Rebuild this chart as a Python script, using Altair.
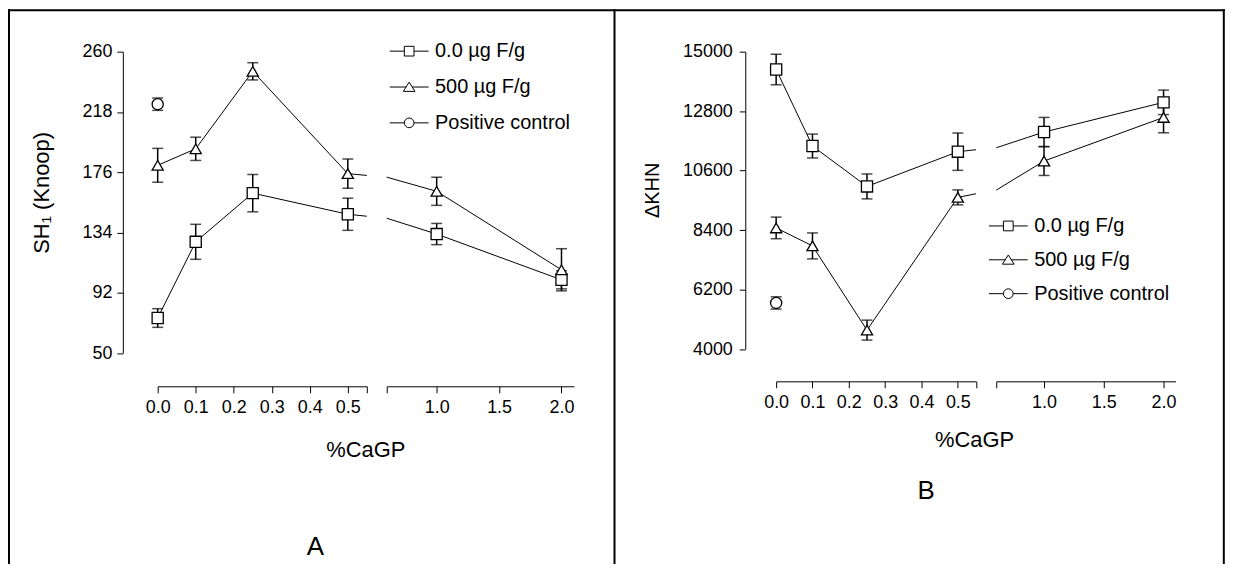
import altair as alt
import pandas as pd

FONT = "Liberation Sans"

# ---------------- data ----------------
x_vals = [0.0, 0.1, 0.25, 0.5, 1.0, 2.0]
series_names = ["0.0 µg F/g", "500 µg F/g", "Positive control"]

# Panel A : SH1 (Knoop)
a_sq = [74.4, 127.5, 161.4, 146.7, 132.9, 101.0]
a_sq_err = [6.5, 12.2, 13.0, 11.2, 7.4, 6.3]
a_tri = [180.8, 192.3, 246.3, 175.0, 162.7, 108.0]
a_tri_err = [11.8, 8.1, 6.0, 10.2, 9.8, 14.7]
a_pc = [223.4]
a_pc_err = [4.3]

# Panel B : delta KHN
b_sq = [14340, 11510, 10015, 11300, 12027, 13125]
b_sq_err = [565, 442, 461, 690, 540, 453]
b_tri = [8480, 7815, 4700, 9610, 10955, 12567]
b_tri_err = [400, 480, 369, 277, 534, 568]
b_pc = [5705]
b_pc_err = [227]

a_yticks = [50, 92, 134, 176, 218, 260]
b_yticks = [4000, 6200, 8400, 10600, 12800, 15000]
left_xticks = [0.0, 0.1, 0.2, 0.3, 0.4, 0.5, 0.55]
right_xticks = [0.6, 1.0, 1.5, 2.0]

marker_shapes = ["square", "triangle-up", "circle"]
legend_paths = [
    "M-2,0H-0.5M0.5,0H2M-0.5,-0.5H0.5V0.5H-0.5Z",
    "M-2,0H-0.3M0.3,0H2M0,-0.5L-0.6,0.45L0.6,0.45Z",
    "M-2,0H-0.5M0.5,0H2M0.5,0A0.5,0.5 0 1,1 -0.5,0A0.5,0.5 0 1,1 0.5,0Z",
]


def make_df(sq, sq_e, tri, tri_e, pc, pc_e):
    rows = []
    for xi, v, e in zip(x_vals, sq, sq_e):
        rows.append({"x": xi, "series": series_names[0], "v": v, "e": e})
    for xi, v, e in zip(x_vals, tri, tri_e):
        rows.append({"x": xi, "series": series_names[1], "v": v, "e": e})
    for xi, v, e in zip(x_vals[:1], pc, pc_e):
        rows.append({"x": xi, "series": series_names[2], "v": v, "e": e})
    return pd.DataFrame(rows)


df_a = make_df(a_sq, a_sq_err, a_tri, a_tri_err, a_pc, a_pc_err)
df_b = make_df(b_sq, b_sq_err, b_tri, b_tri_err, b_pc, b_pc_err)
decor_df = pd.DataFrame({"k": [0]})


def x_axis(values, hide_expr, offset, title=None, title_x=0, title_y=0):
    kw = dict(
        values=values,
        labelExpr=f"{hide_expr} ? '' : format(datum.value, '.1f')",
        offset=offset, tickSize=6.5, labelPadding=6, labelFlush=False,
        labelOverlap=False, labelFontSize=18, labelFont=FONT, labelColor="black",
        domainColor="black", tickColor="black", domainWidth=1, tickWidth=1,
        grid=False,
    )
    if title is not None:
        kw.update(title=title, titleFontSize=22, titleFont=FONT, titleFontWeight="normal",
                  titleColor="black", titleX=title_x, titleY=title_y,
                  titleBaseline="middle", titleAlign="center")
    else:
        kw.update(title=None)
    return alt.Axis(**kw)


def y_axis(values, offset, title, title_x, title_y, pad, tsize):
    return alt.Axis(
        values=values, format="d", offset=offset, tickSize=6, labelPadding=pad,
        labelOverlap=False, labelFontSize=18, labelFont=FONT, labelColor="black",
        domainColor="black", tickColor="black", domainWidth=1, tickWidth=1,
        grid=False, title=title, titleFontSize=tsize, titleFont=FONT,
        titleFontWeight="normal", titleColor="black", titleX=title_x, titleY=title_y,
        titleAngle=270, titleBaseline="middle", titleAlign="center",
    )


def subplot(df, xdomain, xaxis, ydomain, yaxis, filt, width, height, legend=None, extra=None):
    xs = alt.Scale(domain=xdomain, nice=False, zero=False)
    ys = alt.Scale(domain=ydomain, nice=False, zero=False)
    X = alt.X("x:Q", scale=xs, axis=xaxis)

    def Y(field):
        return alt.Y(field, scale=ys, axis=yaxis)

    base = alt.Chart(df)
    lines = base.mark_line(clip=True, color="black", strokeWidth=1).encode(
        x=X, y=Y("v:Q"), detail="series:N")
    pts = base.transform_filter(filt).transform_calculate(
        lo="datum.v - datum.e", hi="datum.v + datum.e")
    rules = pts.mark_rule(color="black", strokeWidth=1.5).encode(
        x=X, y=Y("lo:Q"), y2="hi:Q")
    caps = pts.transform_fold(["lo", "hi"], as_=["end", "val"]).mark_tick(
        orient="horizontal", size=11, thickness=1.5, color="black").encode(
        x=X, y=Y("val:Q"))
    points = pts.mark_point(filled=True, fill="white", stroke="black",
                            strokeWidth=1.3, size=125, opacity=1).encode(
        x=X, y=Y("v:Q"),
        shape=alt.Shape("series:N",
                        scale=alt.Scale(domain=series_names, range=marker_shapes),
                        legend=None))
    layers = [lines, rules, caps, points]
    if legend is not None:
        leg = base.mark_point(opacity=0).encode(
            x=X, y=Y("v:Q"),
            shape=alt.Shape("series:N",
                            scale=alt.Scale(domain=series_names, range=legend_paths),
                            legend=legend))
        layers.append(leg)
    if extra is not None:
        layers.extend(extra)
    return alt.layer(*layers).resolve_scale(shape="independent").properties(
        width=width, height=height)


def make_legend(lx, ly, rowpad):
    return alt.Legend(
        orient="none", legendX=lx, legendY=ly, title=None, padding=0,
        labelFontSize=20, labelFont=FONT, labelColor="black", labelLimit=400,
        labelOffset=15.5, symbolOffset=0, symbolSize=380, symbolStrokeWidth=1,
        symbolStrokeColor="black", symbolFillColor="white", symbolOpacity=1,
        rowPadding=rowpad,
    )


# ---------------- decorations (frame and panel letters) ----------------
dec = alt.Chart(decor_df)
frame = [
    dec.mark_rule(color="black", strokeWidth=2).encode(
        x=alt.value(-150.3), x2=alt.value(1071.7), y=alt.value(-41.7)),
    dec.mark_rule(color="black", strokeWidth=2).encode(
        x=alt.value(-149.3), y=alt.value(-42.7), y2=alt.value(520)),
    dec.mark_rule(color="black", strokeWidth=2).encode(
        x=alt.value(458.7), y=alt.value(-42.7), y2=alt.value(520)),
    dec.mark_rule(color="black", strokeWidth=2).encode(
        x=alt.value(1070.5), y=alt.value(-42.7), y2=alt.value(520)),
    dec.mark_text(text="A", fontSize=26, font=FONT, color="black",
                  baseline="middle", align="center").encode(
        x=alt.value(158.4), y=alt.value(497.3)),
]
label_b = [
    dec.mark_text(text="B", fontSize=26, font=FONT, color="black",
                  baseline="middle", align="center").encode(
        x=alt.value(150.7), y=alt.value(441.3)),
]

A_left = subplot(
    df_a, [0, 0.55],
    x_axis(left_xticks, "datum.value > 0.52", 33.4, "%CaGP", 208.4, 63.3),
    [50, 260],
    y_axis(a_yticks, 35, "SH₁ (Knoop)", -81.8, 141.3, 5, 22),
    "datum.x <= 0.55", 210, 302.6,
    legend=make_legend(242, -11, 15), extra=frame)

A_right = subplot(
    df_a, [0.6, 2.1],
    x_axis(right_xticks, "datum.value < 0.7", 33.4),
    [50, 260], None, "datum.x >= 0.6", 188, 302.6)

spacer = alt.Chart(decor_df).mark_text(text="").encode(
    x=alt.value(0), y=alt.value(0)).properties(width=163, height=10)

B_left = subplot(
    df_b, [0, 0.55],
    x_axis(left_xticks, "datum.value > 0.52", 32.4, "%CaGP", 198.7, 58.3),
    [4000, 15000],
    y_axis(b_yticks, 31, "ΔKHN", -92.9, 138.8, 7, 20),
    "datum.x <= 0.55", 200.7, 298.6,
    legend=make_legend(222.6, 164.5, 13), extra=label_b)

B_right = subplot(
    df_b, [0.6, 2.1],
    x_axis(right_xticks, "datum.value < 0.7", 32.4),
    [4000, 15000], None, "datum.x >= 0.6", 180, 298.6)

chart = alt.hconcat(
    A_left, A_right, spacer, B_left, B_right, spacing=20, bounds="flush"
).resolve_scale(
    x="independent", y="independent", shape="independent"
).configure(
    font=FONT, view=alt.ViewConfig(stroke="transparent", strokeWidth=0)
).properties(
    autosize=alt.AutoSizeParams(type="none"),
    padding={"left": 150.3, "top": 42.7, "right": 1071.7, "bottom": 513.3},
)

chart.save("out.html", embed_options={"renderer": "svg", "actions": False})
